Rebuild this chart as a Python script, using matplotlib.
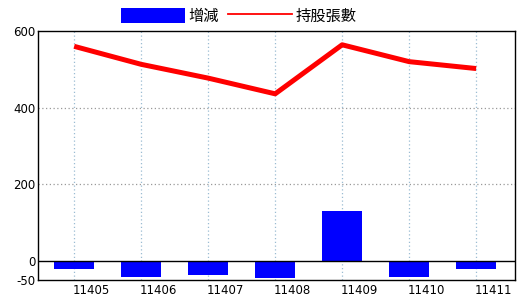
import matplotlib
matplotlib.use('Agg')
import matplotlib.pyplot as plt
import matplotlib.transforms as mtransforms
from matplotlib.patches import Patch
from matplotlib.lines import Line2D
import numpy as np

plt.rcParams['font.family'] = ['DejaVu Sans', 'Noto Sans CJK TC']
plt.rcParams['axes.unicode_minus'] = False

# data
months = ['11405', '11406', '11407', '11408', '11409', '11410', '11411']
change = [-20, -43, -38, -44, 130, -43, -20]          # 增減
holdings = [560, 513, 477, 436, 564, 520, 502]       # 持股張數
y_ticks = [-50, 0, 200, 400, 600]

fig = plt.figure(figsize=(5.2, 3.0), dpi=100)
ax = fig.add_axes([38/520, 20/300, 477/520, 249/300])

x = np.arange(len(months))
ax.bar(x, change, width=0.6, color='#0000ff', zorder=3)
ax.plot(x, holdings, color='#ff0000', linewidth=3.6, solid_capstyle='butt', zorder=4)
ax.axhline(0, color='black', linewidth=1, zorder=5)

ax.set_xlim(-0.54, 6.58)
ax.set_ylim(-50, 600)
ax.set_yticks(y_ticks)
ax.set_xticks(x)
ax.set_xticklabels(months)

# grids
for yv in [200, 400]:
    ax.axhline(yv, color='#999999', linewidth=0.9, linestyle=(0, (1, 2)), zorder=1)
for xv in x:
    ax.axvline(xv, color='#9bbcd3', linewidth=0.9, linestyle=(0, (1, 2)), zorder=1)

ax.tick_params(axis='both', length=0, labelsize=8.5, colors='black', pad=2)
ax.tick_params(axis='x', pad=3)
offset = mtransforms.ScaledTranslation(17/100, 0, fig.dpi_scale_trans)
for lab in ax.get_xticklabels():
    lab.set_transform(lab.get_transform() + offset)

for s in ax.spines.values():
    s.set_color('black')
    s.set_linewidth(1)

handles = [Patch(facecolor='#0000ff', edgecolor='none', label='增減'),
           Line2D([0], [0], color='#ff0000', linewidth=1.3, label='持股張數')]
fig.legend(handles=handles, loc='center', bbox_to_anchor=(0.459, 1 - 16/300), ncol=2,
           frameon=False, fontsize=11, handlelength=4.2, handleheight=1.05,
           handletextpad=0.2, columnspacing=0.6, borderpad=0)

fig.savefig('out.png', dpi=100)
